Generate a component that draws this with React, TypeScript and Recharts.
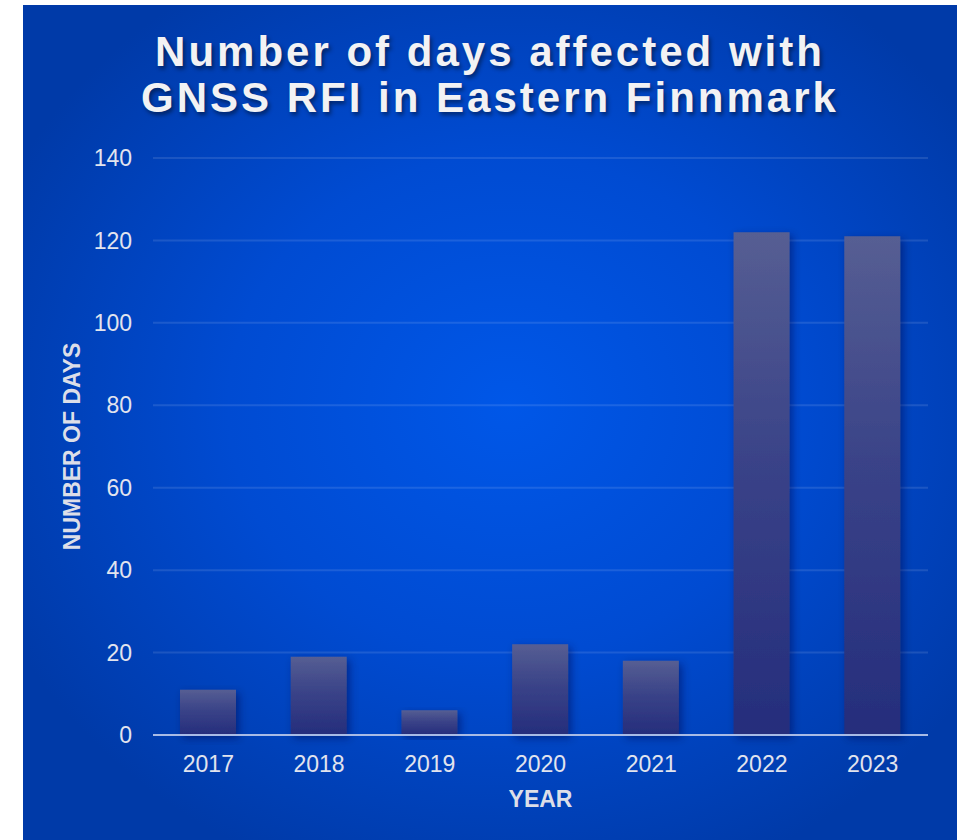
import React from "react";
import { BarChart, Bar, XAxis, YAxis, CartesianGrid, Label } from "recharts";

const years = ["2017", "2018", "2019", "2020", "2021", "2022", "2023"];
const days = [11, 19, 6, 22, 18, 122, 121];
const yTicks = [0, 20, 40, 60, 80, 100, 120, 140];

const TICK = "#e2e4ee";
const LABEL = "#dcdee8";
const FONT = "'Liberation Sans', Arial, sans-serif";

const data = years.map((y, i) => ({ year: y, days: days[i] }));

export default function App() {
  return (
    <div
      style={{
        position: "absolute",
        left: 0,
        top: 0,
        width: 966,
        height: 840,
        background: "#fff",
        fontFamily: FONT,
      }}
    >
      {/* blue panel */}
      <div
        style={{
          position: "absolute",
          left: 23,
          top: 5,
          width: 934,
          height: 835,
          background:
            "radial-gradient(ellipse 60% 60% at 52% 48%, #0057e8 0%, #004bd2 50%, #003aa8 100%)",
        }}
      >
        <div
          style={{
            position: "absolute",
            left: 0,
            top: 24,
            width: 934,
            textAlign: "center",
            color: "#f2f2f4",
            fontWeight: 700,
            fontSize: 42,
            lineHeight: "46px",
            letterSpacing: 3,
            textShadow: "2px 3px 4px rgba(0,0,0,0.45)",
          }}
        >
          Number of days affected with
          <br />
          GNSS RFI in Eastern Finnmark
        </div>

        <BarChart
          width={934}
          height={835}
          data={data}
          margin={{ top: 153, right: 29, bottom: 0, left: 0 }}
          style={{ position: "absolute", left: 0, top: 0 }}
        >
          <defs>
            <linearGradient id="barFill" x1="0" y1="0" x2="0" y2="1">
              <stop offset="0%" stopColor="#565e93" />
              <stop offset="45%" stopColor="#3a4388" />
              <stop offset="100%" stopColor="#252d7c" />
            </linearGradient>
            <filter id="barShadow" x="-30%" y="-10%" width="160%" height="130%">
              <feDropShadow dx="3" dy="3" stdDeviation="4" floodColor="#001040" floodOpacity="0.45" />
            </filter>
          </defs>
          <CartesianGrid
            vertical={false}
            stroke="rgba(255,255,255,0.11)"
            strokeWidth={2}
          />
          <XAxis
            dataKey="year"
            height={105}
            tickSize={0}
            tickMargin={21}
            axisLine={{ stroke: "#a8bbe6", strokeWidth: 2 }}
            tick={{ fill: TICK, fontSize: 23, fontFamily: FONT }}
          >
            <Label
              content={(p: any) => {
                const vb = p.viewBox || { x: 130, y: 730, width: 775 };
                return (
                  <text
                    x={vb.x + vb.width / 2}
                    y={vb.y + 72}
                    textAnchor="middle"
                    fill={LABEL}
                    fontSize={23}
                    fontWeight={700}
                    fontFamily={FONT}
                  >
                    YEAR
                  </text>
                );
              }}
            />
          </XAxis>
          <YAxis
            width={130}
            domain={[0, 140]}
            ticks={yTicks}
            tickSize={0}
            tickMargin={21}
            axisLine={false}
            tick={{ fill: TICK, fontSize: 23, fontFamily: FONT }}
          >
            <Label
              content={(p: any) => {
                const vb = p.viewBox || { x: 0, y: 153, height: 577 };
                const cx = vb.x + 49;
                const cy = vb.y + vb.height / 2;
                return (
                  <text
                    x={cx}
                    y={cy}
                    transform={`rotate(-90 ${cx} ${cy})`}
                    textAnchor="middle"
                    dominantBaseline="central"
                    fill={LABEL}
                    fontSize={23}
                    fontWeight={700}
                    fontFamily={FONT}
                  >
                    NUMBER OF DAYS
                  </text>
                );
              }}
            />
          </YAxis>
          <Bar
            dataKey="days"
            barSize={56}
            fill="url(#barFill)"
            filter="url(#barShadow)"
            isAnimationActive={false}
          />
        </BarChart>
      </div>
    </div>
  );
}
